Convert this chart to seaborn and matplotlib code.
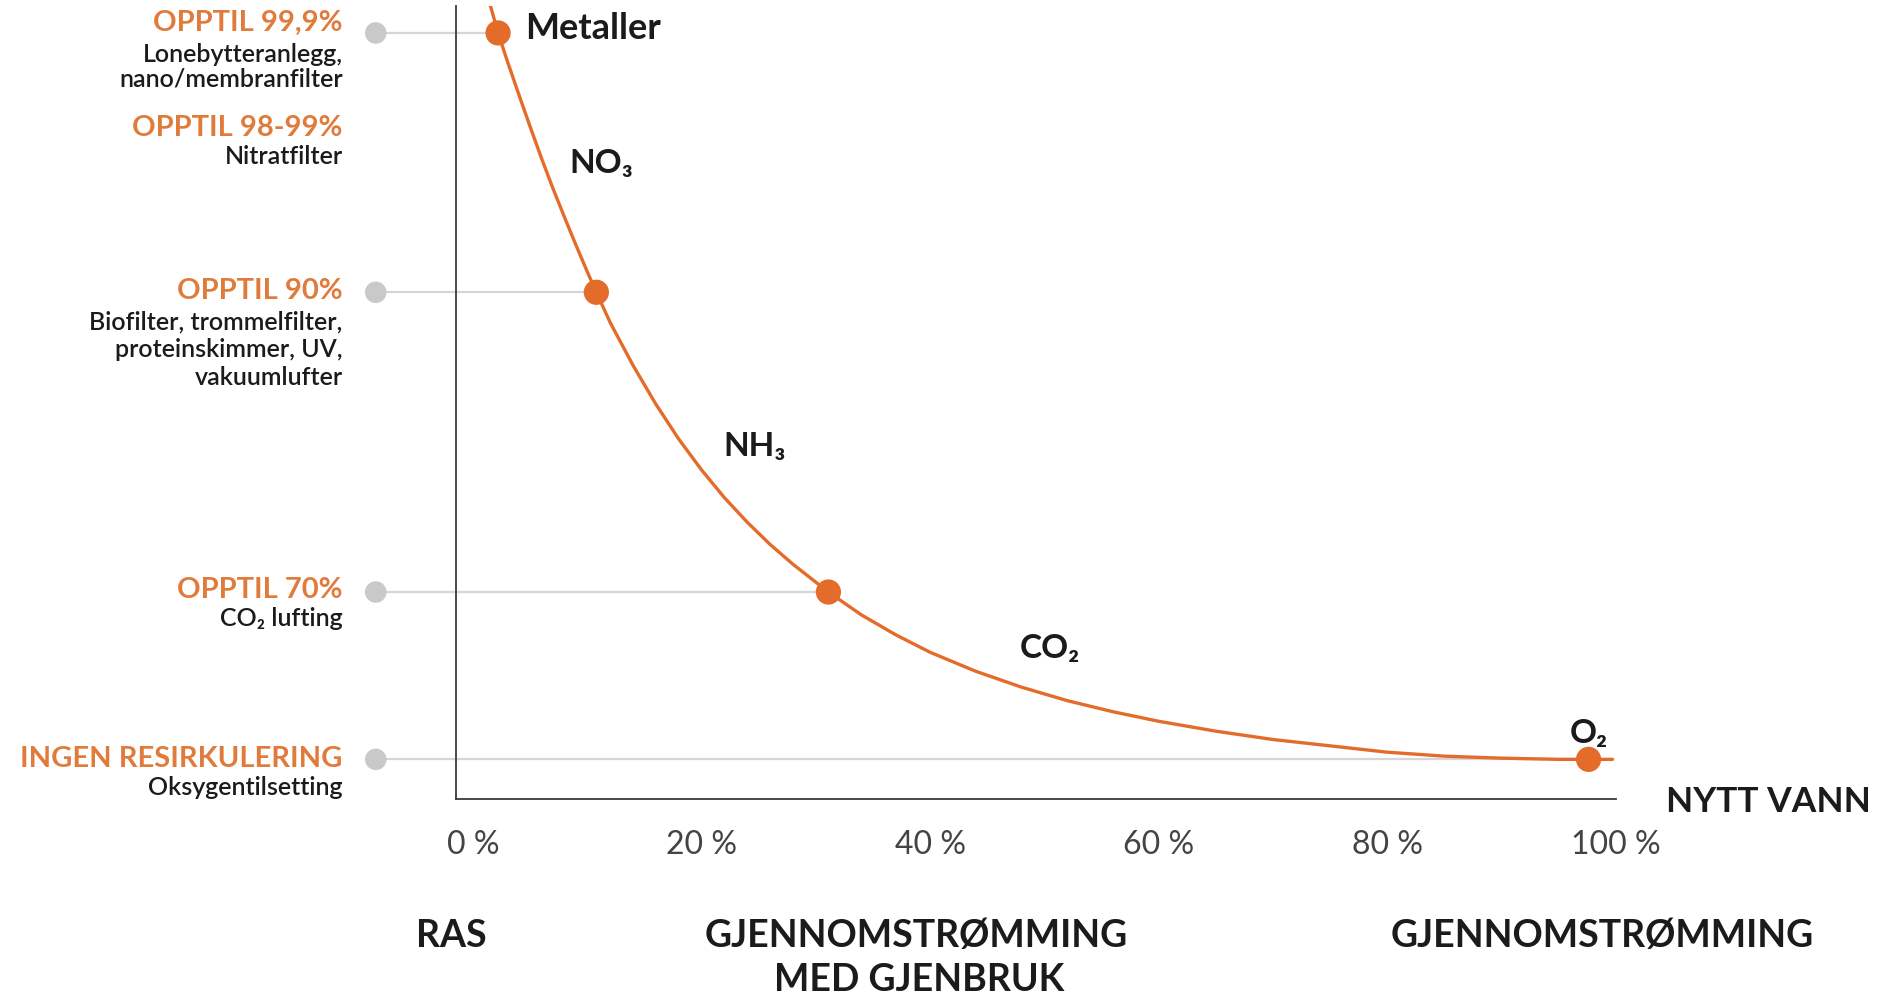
import matplotlib
matplotlib.use("Agg")
import matplotlib.pyplot as plt
import seaborn as sns
import pandas as pd

# curve: x = share of new water (%), y = relative height (0-100)
curve_x = [1.5, 2.2, 3, 4, 5, 6, 7, 8, 9, 10, 10.8, 12, 14, 16, 18, 20, 22, 24, 26, 28,
           31.1, 34, 37, 40, 44, 48, 52, 56, 60, 65, 70, 75, 80, 85, 90, 95, 97.6, 99.7]
curve_y = [100.2, 96.6, 93.1, 88.9, 84.8, 80.8, 77.0, 73.4, 69.9, 66.5, 63.9, 60.1, 54.7,
           49.8, 45.4, 41.5, 38.0, 34.9, 32.1, 29.6, 26.1, 23.2, 20.7, 18.5, 16.1, 14.1,
           12.4, 11.0, 9.8, 8.55, 7.5, 6.7, 5.9, 5.4, 5.15, 5.0, 5.0, 5.0]

# marked stages on the curve
stage_x = [2.2, 10.8, 31.1, 97.6]
stage_y = [96.6, 63.9, 26.1, 5.0]

headings = ["OPPTIL 99,9%", "OPPTIL 98-99%", "OPPTIL 90%", "OPPTIL 70%", "INGEN RESIRKULERING"]
heading_y = [97.9, 84.6, 64.0, 26.4, 5.0]
note_lines = ["Lonebytteranlegg,", "nano/membranfilter", "Nitratfilter",
              "Biofilter, trommelfilter,", "proteinskimmer, UV,", "vakuumlufter",
              "CO\u2082 lufting", "Oksygentilsetting"]
note_y = [93.9, 90.8, 81.0, 60.2, 56.7, 53.1, 22.7, 1.4]

substances = ["Metaller", "NO\u2083", "NH\u2083", "CO\u2082", "O\u2082"]
substance_x = [4.6, 8.4, 21.9, 47.8, 97.6]
substance_y = [97.1, 80.1, 44.5, 19.0, 8.3]

xticks = [0, 20, 40, 60, 80, 100]
xtick_labels = ["0 %", "20 %", "40 %", "60 %", "80 %", "100 %"]

category_lines = ["RAS", "GJENNOMSTRØMMING", "MED GJENBRUK", "GJENNOMSTRØMMING"]
category_x = [-1.9, 38.8, 39.0, 98.8]
category_y = [-17.3, -17.3, -22.8, -17.3]

ORANGE = "#e46c2a"
HEAD = "#e07b3c"
GREY = "#c9c9c9"
INK = "#1b1b1b"

sns.set_theme(style="white")
plt.rcParams["font.family"] = ["Lato", "DejaVu Sans"]

fig = plt.figure(figsize=(18.79, 9.94), dpi=100)
ax = fig.add_axes([456 / 1879, 1 - 799 / 994, 1160 / 1879, 793 / 994])
ax.set_xlim(-1.48, 99.8)
ax.set_ylim(0, 100)

# grey guide lines from the left-hand dots to the curve
for sx, sy in zip(stage_x, stage_y):
    ax.plot([-8.5, sx], [sy, sy], color="#d6d6d6", lw=1.6, clip_on=False, zorder=1)
sns.scatterplot(x=[-8.5] * len(stage_y), y=stage_y, color=GREY, s=240, edgecolor="none",
                ax=ax, clip_on=False, zorder=2, legend=False)

df = pd.DataFrame({"x": curve_x, "y": curve_y})
sns.lineplot(data=df, x="x", y="y", sort=False, color=ORANGE, lw=2.4, ax=ax, zorder=3)
sns.scatterplot(x=stage_x, y=stage_y, color=ORANGE, s=330, edgecolor="none", ax=ax,
                clip_on=False, zorder=4, legend=False)

for t, y in zip(headings, heading_y):
    ax.text(-11.4, y, t, ha="right", va="center", color=HEAD, fontsize=21,
            fontweight="bold", clip_on=False)
for t, y in zip(note_lines, note_y):
    ax.text(-11.4, y, t, ha="right", va="center", color=INK, fontsize=18,
            fontweight="semibold", clip_on=False)

for t, x, y in zip(substances, substance_x, substance_y):
    ha = "center" if t.startswith("O\u2082") else "left"
    ax.text(x, y, t, ha=ha, va="center", color=INK, fontsize=26 if t == "Metaller" else 24,
            fontweight="bold", clip_on=False)

ax.text(104.4, -0.4, "NYTT VANN", ha="left", va="center", color=INK, fontsize=25.5,
        fontweight="bold", clip_on=False)

for t, x, y in zip(category_lines, category_x, category_y):
    ax.text(x, y, t, ha="center", va="center", color=INK, fontsize=27, fontweight="bold",
            clip_on=False)

ax.set_xticks(xticks)
ax.set_xticklabels(xtick_labels, fontsize=23, fontweight="normal", color="#444444")
ax.set_yticks([])
ax.tick_params(axis="x", length=0, pad=22)
ax.set_xlabel("")
ax.set_ylabel("")
sns.despine(ax=ax)
for side in ["left", "bottom"]:
    ax.spines[side].set_color("#3a3a3a")
    ax.spines[side].set_linewidth(1.3)

fig.savefig("out.png", dpi=100, facecolor="white")
